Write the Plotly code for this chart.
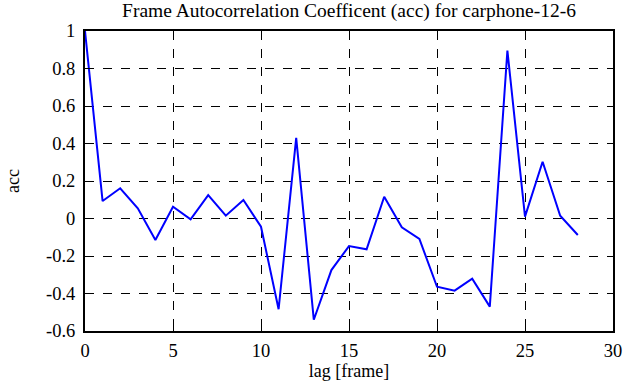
import plotly.graph_objects as go

lags = list(range(29))
acc = [1.0, 0.093, 0.161, 0.054, -0.115, 0.063, -0.004, 0.125, 0.015, 0.099,
       -0.044, -0.484, 0.43, -0.54, -0.275, -0.147, -0.164, 0.116, -0.047, -0.109,
       -0.364, -0.385, -0.321, -0.47, 0.895, 0.01, 0.303, 0.015, -0.088]

xticks = [0, 5, 10, 15, 20, 25, 30]
yticks = [-0.6, -0.4, -0.2, 0, 0.2, 0.4, 0.6, 0.8, 1]
yticklabels = ["-0.6", "-0.4", "-0.2", "0", "0.2", "0.4", "0.6", "0.8", "1"]

font = "Liberation Serif, Times New Roman, serif"

fig = go.Figure()
fig.add_trace(go.Scatter(x=lags, y=acc, mode="lines",
                         line=dict(color="#0000ff", width=2), showlegend=False))

axis_common = dict(showline=True, linecolor="black", linewidth=2, mirror="ticks",
                   ticks="inside", ticklen=5, tickcolor="black", tickwidth=1,
                   showgrid=True, gridcolor="black", griddash="dash", gridwidth=1,
                   zeroline=False, tickfont=dict(family=font, size=18.5, color="black"))

fig.update_xaxes(range=[0, 30], tickvals=xticks, ticktext=[str(t) for t in xticks],
                 ticklabelstandoff=2,
                 title=dict(text="lag [frame]", font=dict(family=font, size=18, color="black"), standoff=0),
                 **axis_common)
fig.update_yaxes(range=[-0.6, 1], tickvals=yticks, ticktext=yticklabels,
                 ticklabelstandoff=4,
                 title=dict(text="acc", font=dict(family=font, size=18, color="black"), standoff=22),
                 **axis_common)

fig.update_layout(
    width=641, height=387,
    margin=dict(l=85, r=28, t=31, b=56, autoexpand=False),
    paper_bgcolor="white", plot_bgcolor="white",
    title=dict(text="Frame Autocorrelation Coefficent (acc) for carphone-12-6",
               font=dict(family=font, size=19.5, color="black"),
               xref="container", yref="container",
               x=0.5445, xanchor="center", y=0.974, yanchor="middle"),
)

fig.write_html("out.html", config={"displayModeBar": False},
               post_script="document.body.style.margin='0';")
